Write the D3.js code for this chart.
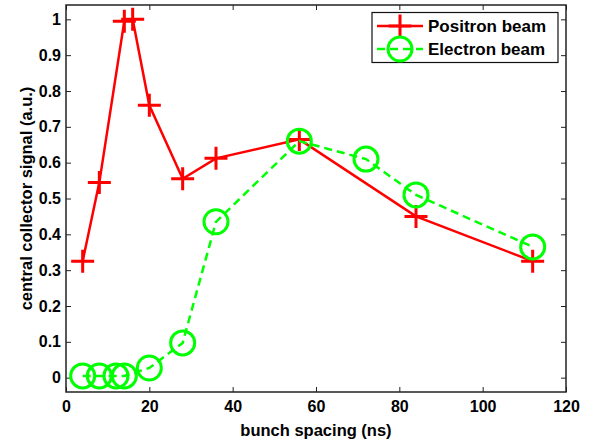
<!DOCTYPE html>
<html lang="en">
<head>
    <meta charset="UTF-8">
    <title>Central collector signal vs bunch spacing</title>
    <script src="https://cdnjs.cloudflare.com/ajax/libs/d3/7.8.5/d3.min.js"></script>
    <style>
        body { margin: 0; background: #fff; }
        text { font-family: "Liberation Sans", Arial, sans-serif; font-weight: bold; fill: #000; }
        .frame { fill: none; stroke: #222; stroke-width: 1.5px; }
        .tick line { stroke: #222; }
    </style>
</head>
<body>
    <div id="chart"></div>

    <script>
        // data
        const positronX = [4, 8, 14, 16, 20, 28, 36, 56, 84, 112];
        const positronY = [0.325, 0.545, 0.995, 1.0, 0.76, 0.555, 0.612, 0.665, 0.45, 0.325];
        const electronX = [4, 8, 12, 14, 20, 28, 36, 56, 72, 84, 112];
        const electronY = [0.005, 0.005, 0.005, 0.005, 0.027, 0.097, 0.435, 0.66, 0.61, 0.51, 0.365];
        const xTicks = [0, 20, 40, 60, 80, 100, 120];
        const yTicks = [0, 0.1, 0.2, 0.3, 0.4, 0.5, 0.6, 0.7, 0.8, 0.9, 1];
        const seriesNames = ["Positron beam", "Electron beam"];

        const width = 590, height = 441;
        const margin = { left: 66, right: 24, top: 5, bottom: 49 };

        const svg = d3.select("#chart").append("svg")
            .attr("width", width)
            .attr("height", height);

        const x = d3.scaleLinear().domain([0, 120]).range([margin.left, width - margin.right]);
        const y = d3.scaleLinear().domain([-0.04, 1.04]).range([height - margin.bottom, margin.top]);

        // axes, ticks pointing inward on all four sides
        const tick = 5;
        svg.append("g")
            .attr("transform", `translate(0,${height - margin.bottom})`)
            .call(d3.axisBottom(x).tickValues(xTicks).tickSize(-tick).tickPadding(9).tickFormat(d3.format("d")))
            .call(g => g.select(".domain").remove())
            .selectAll("text").style("font-size", "16px");
        svg.append("g")
            .attr("transform", `translate(0,${margin.top})`)
            .call(d3.axisTop(x).tickValues(xTicks).tickSize(-tick).tickFormat(""))
            .call(g => g.select(".domain").remove());
        svg.append("g")
            .attr("transform", `translate(${margin.left},0)`)
            .call(d3.axisLeft(y).tickValues(yTicks).tickSize(-tick).tickPadding(5).tickFormat(d => d3.format("~g")(d)))
            .call(g => g.select(".domain").remove())
            .selectAll("text").style("font-size", "16px");
        svg.append("g")
            .attr("transform", `translate(${width - margin.right},0)`)
            .call(d3.axisRight(y).tickValues(yTicks).tickSize(-tick).tickFormat(""))
            .call(g => g.select(".domain").remove());

        svg.selectAll(".tick line").attr("stroke-width", 1);

        svg.append("rect")
            .attr("class", "frame")
            .attr("x", margin.left).attr("y", margin.top)
            .attr("width", width - margin.left - margin.right)
            .attr("height", height - margin.top - margin.bottom);

        // axis titles
        svg.append("text")
            .attr("x", (margin.left + width - margin.right) / 2)
            .attr("y", 436)
            .attr("text-anchor", "middle")
            .style("font-size", "16.5px")
            .text("bunch spacing (ns)");
        svg.append("text")
            .attr("transform", `translate(32,${(margin.top + height - margin.bottom) / 2}) rotate(-90)`)
            .attr("text-anchor", "middle")
            .style("font-size", "16.5px")
            .text("central collector signal (a.u.)");

        const line = d3.line().x(d => x(d[0])).y(d => y(d[1]));
        const positron = d3.zip(positronX, positronY);
        const electron = d3.zip(electronX, electronY);

        const red = "#ff0000", green = "#00ff00";

        function cross(g, cx, cy) {
            const s = 11.5;
            g.append("path")
                .attr("d", `M${cx - s},${cy}H${cx + s}M${cx},${cy - s}V${cy + s}`)
                .attr("stroke", red).attr("stroke-width", 3).attr("fill", "none");
        }
        function ring(g, cx, cy) {
            g.append("circle")
                .attr("cx", cx).attr("cy", cy).attr("r", 12)
                .attr("stroke", green).attr("stroke-width", 3).attr("fill", "none");
        }

        // positron series
        svg.append("path")
            .datum(positron)
            .attr("d", line)
            .attr("fill", "none").attr("stroke", red).attr("stroke-width", 2.5);
        const pg = svg.append("g");
        positron.forEach(d => cross(pg, x(d[0]), y(d[1])));

        // electron series
        svg.append("path")
            .datum(electron)
            .attr("d", line)
            .attr("fill", "none").attr("stroke", green).attr("stroke-width", 2.5)
            .attr("stroke-dasharray", "8,5");
        const eg = svg.append("g");
        electron.forEach(d => ring(eg, x(d[0]), y(d[1])));

        // legend
        const lg = svg.append("g");
        lg.append("rect")
            .attr("x", 372).attr("y", 12.5).attr("width", 186).attr("height", 50)
            .attr("fill", "#fff").attr("stroke", "#111").attr("stroke-width", 1.2);
        const rowY = [26, 49];
        lg.append("line").attr("x1", 377).attr("x2", 423).attr("y1", rowY[0]).attr("y2", rowY[0])
            .attr("stroke", red).attr("stroke-width", 2.5);
        cross(lg, 400, rowY[0]);
        lg.append("line").attr("x1", 377).attr("x2", 423).attr("y1", rowY[1]).attr("y2", rowY[1])
            .attr("stroke", green).attr("stroke-width", 2.5).attr("stroke-dasharray", "8,5");
        ring(lg, 400, rowY[1]);
        lg.selectAll("text.lab")
            .data(seriesNames)
            .enter().append("text")
            .attr("class", "lab")
            .attr("x", 428)
            .attr("y", (d, i) => rowY[i])
            .attr("dy", "0.35em")
            .style("font-size", "17px")
            .text(d => d);
    </script>
</body>
</html>
